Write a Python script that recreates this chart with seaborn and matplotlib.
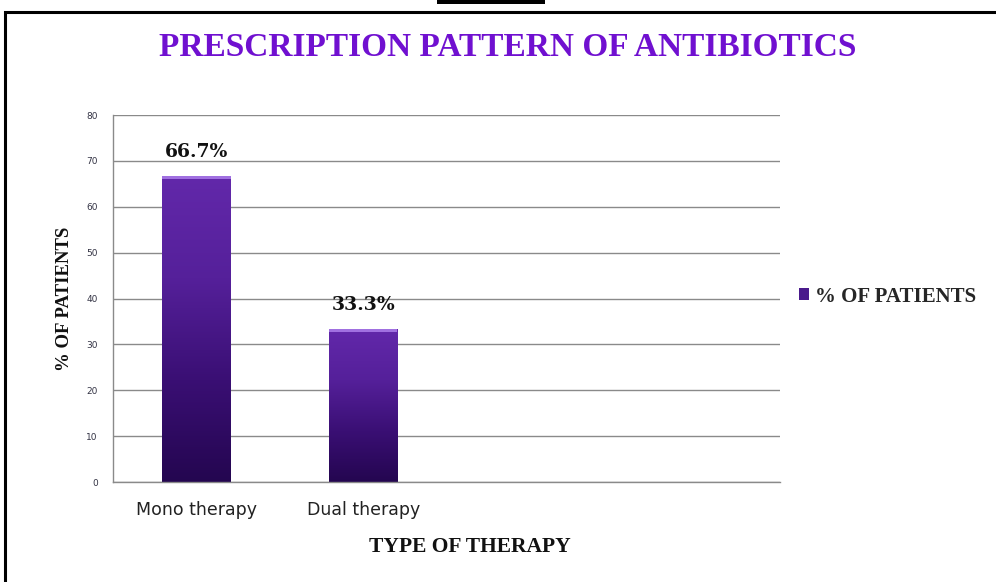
import matplotlib
matplotlib.use("Agg")
import matplotlib.pyplot as plt
import numpy as np
import pandas as pd
import seaborn as sns
from matplotlib.colors import LinearSegmentedColormap
from matplotlib.patches import Rectangle

therapy_types = ["Mono therapy", "Dual therapy"]
pct_patients = [66.7, 33.3]
value_labels = ["66.7%", "33.3%"]
n_slots = 4
y_ticks = [0, 10, 20, 30, 40, 50, 60, 70, 80]

df = pd.DataFrame({"therapy": therapy_types, "pct": pct_patients})

sns.set_theme(style="white")
plt.rcParams["font.family"] = ["DejaVu Sans"]
serif = ["Liberation Serif", "DejaVu Serif"]

fig = plt.figure(figsize=(9.96, 5.82), dpi=100)
ax = fig.add_axes([0.1135, 0.1718, 0.6697, 0.6306])

sns.barplot(data=df, x="therapy", y="pct", color="#4a1a8c", width=0.41, ax=ax,
            label="% OF PATIENTS")

ax.set_xlim(-0.5, n_slots - 0.5)
ax.set_ylim(0, 80)
ax.set_yticks(y_ticks)
ax.set_yticklabels([str(t) for t in y_ticks], fontsize=6.5, color="#333344")
ax.set_xticks(np.arange(-0.5, n_slots, 1.0), minor=True)
ax.set_xticks(range(len(therapy_types)))
ax.set_xticklabels(therapy_types, fontsize=12.5, color="#222222")
ax.tick_params(axis="x", which="major", length=0, pad=14)
ax.tick_params(axis="x", which="minor", length=4, width=0.8, color="#888888", direction="out")
ax.tick_params(axis="y", length=5, width=0.8, color="#888888", direction="out", pad=6)
ax.yaxis.grid(True, color="#8a8a8a", linewidth=1.0)
ax.set_axisbelow(True)
for side in ["top", "right"]:
    ax.spines[side].set_visible(False)
for side in ["left", "bottom"]:
    ax.spines[side].set_color("#8a8a8a")
    ax.spines[side].set_linewidth(1.0)

# gradient fill for bars
cmap = LinearSegmentedColormap.from_list("purp", ["#240650", "#3a0f74", "#55209a", "#6228aa"])
grad = np.linspace(0, 1, 256).reshape(-1, 1)
for bar in ax.patches:
    x0, w, h = bar.get_x(), bar.get_width(), bar.get_height()
    bar.set_facecolor("none")
    bar.set_edgecolor("none")
    im = ax.imshow(grad, cmap=cmap, origin="lower", aspect="auto",
                   extent=[x0, x0 + w, 0, h], zorder=2)
    im.set_clip_path(bar)
    ax.add_patch(Rectangle((x0, h - 0.7), w, 0.7, facecolor="#a070e0", edgecolor="none", zorder=3))

ax.set_xlim(-0.5, n_slots - 0.5)
ax.set_ylim(0, 80)

for i, (v, lab) in enumerate(zip(pct_patients, value_labels)):
    ax.text(i, v + 5.2, lab, ha="center", va="center", fontsize=13.5, fontweight="bold",
            family=["DejaVu Serif"], color="#111111")

ax.set_xlabel("TYPE OF THERAPY", fontsize=15.5, fontweight="bold", family=serif,
              color="#111111")
ax.xaxis.set_label_coords(0.535, -0.15)
ax.set_ylabel("% OF PATIENTS", fontsize=13.5, fontweight="bold", family=serif,
              color="#111111")
ax.yaxis.set_label_coords(-0.06, 0.5)

fig.text(0.51, 0.918, "PRESCRIPTION PATTERN OF ANTIBIOTICS", ha="center", va="center",
         fontsize=24, fontweight="bold", family=serif, color="#7010d0")

leg = ax.legend(loc="center left", bbox_to_anchor=(1.0, 0.505), frameon=False,
                prop={"family": serif, "weight": "bold", "size": 15},
                handlelength=0.5, handleheight=0.5, handletextpad=0.3)
for h in leg.legend_handles:
    h.set_facecolor("#4a1a8c")

# outer frame and top mark
fig.add_artist(Rectangle((5 / 996, -0.01), 1.0, 1 - 12 / 582 + 0.01, transform=fig.transFigure,
                         fill=False, edgecolor="black", linewidth=2.2))
fig.add_artist(Rectangle((437 / 996, 1 - 4 / 582), 108 / 996, 4 / 582, transform=fig.transFigure,
                         facecolor="black", edgecolor="none"))

fig.savefig("out.png", dpi=100)
